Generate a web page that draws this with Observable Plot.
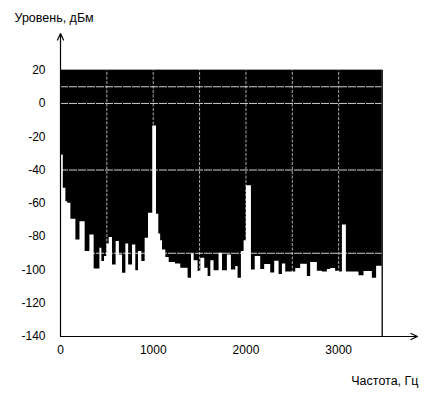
<!DOCTYPE html>
<html><head><meta charset="utf-8">
<script src="https://cdn.jsdelivr.net/npm/d3@7"></script>
<script src="https://cdn.jsdelivr.net/npm/@observablehq/plot@0.6"></script>
<style>body{margin:0;background:#fff}</style>
</head><body><div id="chart"></div>
<script>
// Spectrum as a step function: segment i spans edges[i]..edges[i+1] (Hz) at levels[i] (dBm)
const edges = [0,30,58,78,112,166,210,266,317,363,425,446,475,500,525,561,600,635,669,705,735,777,812,841,877,913,949,995,1035,1060,1080,1100,1136,1172,1240,1297,1376,1413,1441,1484,1513,1556,1592,1621,1656,1710,1747,1800,1843,1890,1915,1951,1980,2005,2059,2100,2159,2202,2267,2310,2357,2393,2429,2537,2590,2662,2698,2770,2824,2878,2914,2967,3003,3040,3083,3147,3219,3273,3363,3409,3470];
const levels = [-31,-51,-59,-60,-69.5,-82,-71,-89,-79,-99.5,-87,-95,-92,-84.5,-80.5,-97,-83,-91,-102,-84.5,-97,-85,-100.5,-89,-95,-81,-66,-13.5,-66.5,-78.5,-82.5,-88,-92.5,-95.5,-96.5,-99,-105,-90.5,-94.5,-101,-93,-99,-104,-94.5,-100.5,-90,-100.5,-91,-100,-98,-105,-89,-82.5,-49.5,-100,-92,-99.8,-96.8,-101.8,-94.8,-102.8,-96.4,-101.2,-99.2,-96.6,-104,-95.6,-100.8,-101.2,-99.8,-99.2,-100.8,-101.2,-73,-101.2,-101.2,-103.5,-101,-105,-97.8];

const xTicks = [0, 1000, 2000, 3000];
const yTicks = [20, 0, -20, -40, -60, -80, -100, -120, -140];
const xGrid = [500, 1000, 1500, 2000, 2500, 3000];
const yGrid = [10, 0, -40, -90];
const levelTop = 20;
const floorLevel = -140;
const xAxisEnd = 3850;
const yAxisEnd = 42;
const xTitle = "Частота, Гц";
const yTitle = "Уровень, дБм";

const fEnd = edges[edges.length - 1];
const spectrum = edges.map((f, i) => ({f, db: levels[Math.min(i, levels.length - 1)]}));

const chart = Plot.plot({
  width: 426,
  height: 394,
  marginLeft: 60,
  marginRight: 9,
  marginTop: 33,
  marginBottom: 58,
  style: {fontFamily: "'Liberation Sans', Arial, sans-serif", fontSize: "12px", color: "black", background: "white"},
  x: {domain: [0, xAxisEnd], ticks: xTicks, tickSize: 0, tickPadding: 9, label: null, tickFormat: d => String(d)},
  y: {domain: [floorLevel, yAxisEnd], ticks: yTicks, tickSize: 0, tickPadding: 15, label: null, tickFormat: d => String(d)},
  marks: [
    Plot.rect([{x1: 0, x2: fEnd, y1: floorLevel, y2: levelTop}], {x1: "x1", x2: "x2", y1: "y1", y2: "y2", fill: "black"}),
    Plot.ruleX(xGrid, {y1: floorLevel, y2: levelTop, stroke: "white", strokeWidth: 0.8, strokeOpacity: 0.85, strokeDasharray: "3,1.5"}),
    Plot.ruleY(yGrid, {x1: 0, x2: fEnd, stroke: "white", strokeWidth: 0.9, strokeOpacity: 0.9, strokeDasharray: "8,1"}),
    Plot.areaY(spectrum, {x: "f", y1: floorLevel, y2: "db", curve: "step-after", fill: "white"}),
    Plot.ruleX([fEnd], {y1: floorLevel, y2: levelTop, stroke: "black", strokeWidth: 1.2}),
    Plot.arrow([{x1: 0, y1: floorLevel, x2: 0, y2: yAxisEnd}], {x1: "x1", y1: "y1", x2: "x2", y2: "y2", stroke: "black", strokeWidth: 1.2, headLength: 9, headAngle: 50}),
    Plot.arrow([{x1: 0, y1: floorLevel, x2: xAxisEnd, y2: floorLevel}], {x1: "x1", y1: "y1", x2: "x2", y2: "y2", stroke: "black", strokeWidth: 1.2, headLength: 9, headAngle: 50}),
    Plot.text([yTitle], {frameAnchor: "top-left", text: d => d, textAnchor: "start", lineAnchor: "middle", dx: -46, dy: -16, fill: "black", fontSize: 12.5}),
    Plot.text([xTitle], {frameAnchor: "bottom-right", text: d => d, textAnchor: "end", lineAnchor: "middle", dx: 1, dy: 44, fill: "black", fontSize: 12.5})
  ]
});
document.getElementById("chart").appendChild(chart);
</script>
</body></html>
